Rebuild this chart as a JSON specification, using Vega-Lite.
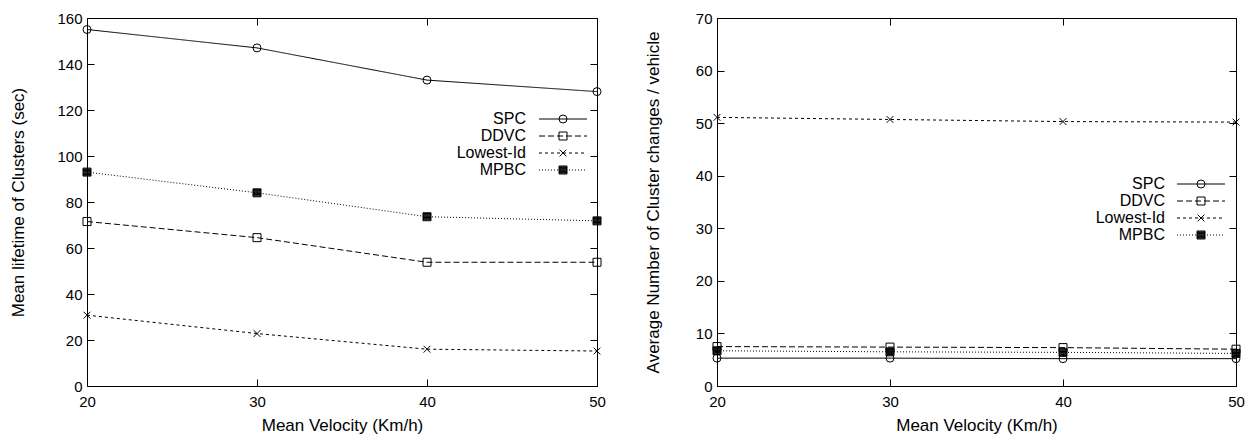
{
  "$schema": "https://vega.github.io/schema/vega-lite/v6.json",
  "padding": {"left": 9, "top": 10, "right": 5, "bottom": 5},
  "spacing": 37,
  "config": {
    "font": "Liberation Sans",
    "view": {"stroke": "black", "strokeWidth": 1},
    "axis": {
      "domain": false,
      "grid": false,
      "ticks": true,
      "tickColor": "black",
      "tickSize": -7,
      "labelFont": "Liberation Sans",
      "labelFontSize": 15,
      "labelColor": "black",
      "labelPadding": 12,
      "labelFlush": false,
      "titleFont": "Liberation Sans",
      "titleFontSize": 17,
      "titleFontWeight": "normal",
      "titleColor": "black",
      "titlePadding": 14
    },
    "axisBottom": {"labelPadding": 15, "titlePadding": 8},
    "legend": {
      "labelFont": "Liberation Sans",
      "labelFontSize": 16,
      "labelColor": "black",
      "title": null
    }
  },
  "resolve": {"scale": {"shape": "independent", "strokeDash": "independent"}, "legend": {"shape": "independent", "strokeDash": "independent"}},
  "datasets": {
    "lifetime": [
      {"velocity": 20, "series": "SPC", "value": 155},
      {"velocity": 30, "series": "SPC", "value": 147},
      {"velocity": 40, "series": "SPC", "value": 133},
      {"velocity": 50, "series": "SPC", "value": 128},
      {"velocity": 20, "series": "DDVC", "value": 71.5},
      {"velocity": 30, "series": "DDVC", "value": 64.5},
      {"velocity": 40, "series": "DDVC", "value": 53.8},
      {"velocity": 50, "series": "DDVC", "value": 53.8},
      {"velocity": 20, "series": "Lowest-Id", "value": 30.8},
      {"velocity": 30, "series": "Lowest-Id", "value": 22.8},
      {"velocity": 40, "series": "Lowest-Id", "value": 16},
      {"velocity": 50, "series": "Lowest-Id", "value": 15.2},
      {"velocity": 20, "series": "MPBC", "value": 93},
      {"velocity": 30, "series": "MPBC", "value": 84},
      {"velocity": 40, "series": "MPBC", "value": 73.6},
      {"velocity": 50, "series": "MPBC", "value": 71.8}
    ],
    "changes": [
      {"velocity": 20, "series": "SPC", "value": 5.3},
      {"velocity": 30, "series": "SPC", "value": 5.3},
      {"velocity": 40, "series": "SPC", "value": 5.2},
      {"velocity": 50, "series": "SPC", "value": 5.2},
      {"velocity": 20, "series": "DDVC", "value": 7.5},
      {"velocity": 30, "series": "DDVC", "value": 7.4},
      {"velocity": 40, "series": "DDVC", "value": 7.3},
      {"velocity": 50, "series": "DDVC", "value": 7.0},
      {"velocity": 20, "series": "Lowest-Id", "value": 51.1},
      {"velocity": 30, "series": "Lowest-Id", "value": 50.7},
      {"velocity": 40, "series": "Lowest-Id", "value": 50.3},
      {"velocity": 50, "series": "Lowest-Id", "value": 50.2},
      {"velocity": 20, "series": "MPBC", "value": 6.7},
      {"velocity": 30, "series": "MPBC", "value": 6.5},
      {"velocity": 40, "series": "MPBC", "value": 6.4},
      {"velocity": 50, "series": "MPBC", "value": 6.2}
    ]
  },
  "hconcat": [
    {
      "width": 510,
      "height": 368,
      "data": {"name": "lifetime"},
      "layer": [
        {
          "mark": {"type": "line", "color": "black", "strokeWidth": 1},
          "encoding": {
            "x": {"field": "velocity", "type": "quantitative", "scale": {"domain": [20, 50], "nice": false},
                  "axis": {"orient": "bottom", "values": [20, 30, 40, 50], "title": "Mean Velocity (Km/h)"}},
            "y": {"field": "value", "type": "quantitative", "scale": {"domain": [0, 160], "nice": false},
                  "axis": {"orient": "left", "values": [0, 20, 40, 60, 80, 100, 120, 140, 160], "title": "Mean lifetime of Clusters (sec)", "titlePadding": 29}},
            "strokeDash": {"field": "series", "type": "nominal", "sort": ["SPC", "DDVC", "Lowest-Id", "MPBC"],
                  "scale": {"range": [[1, 0], [6, 3], [3, 3], [1, 2]]},
                  "legend": {"orient": "none", "legendX": 468, "legendY": 93, "symbolType": "M-3.2,0H3.2", "symbolSize": 225,
                             "symbolStrokeWidth": 1, "symbolStrokeColor": "black", "labelAlign": "right", "labelOffset": -45,
                             "rowPadding": 1}}
          }
        },
        {
          "mark": {"type": "point", "filled": false, "color": "black", "strokeWidth": 1, "size": 64, "opacity": 1},
          "encoding": {
            "x": {"field": "velocity", "type": "quantitative", "scale": {"domain": [20, 50], "nice": false},
                  "axis": {"orient": "top", "values": [20, 30, 40, 50], "labels": false, "title": null}},
            "y": {"field": "value", "type": "quantitative", "scale": {"domain": [0, 160], "nice": false},
                  "axis": {"orient": "right", "values": [0, 20, 40, 60, 80, 100, 120, 140, 160], "labels": false, "title": null}},
            "shape": {"field": "series", "type": "nominal",
                  "scale": {"domain": ["SPC", "DDVC", "Lowest-Id", "MPBC"],
                            "range": ["circle", "square", "M-0.85,-0.85L0.85,0.85M-0.85,0.85L0.85,-0.85",
                                      "M-1,-1H1V1H-1Z M-1,-0.8H1 M-1,-0.6H1 M-1,-0.4H1 M-1,-0.2H1 M-1,0H1 M-1,0.2H1 M-1,0.4H1 M-1,0.6H1 M-1,0.8H1"]},
                  "legend": {"orient": "none", "legendX": 468, "legendY": 93, "labelOpacity": 0, "labelAlign": "right", "labelOffset": -45,
                             "rowPadding": 1, "symbolStrokeColor": "black", "symbolStrokeWidth": 1, "symbolSize": 64}}
          }
        }
      ]
    },
    {
      "width": 519,
      "height": 368,
      "data": {"name": "changes"},
      "layer": [
        {
          "mark": {"type": "line", "color": "black", "strokeWidth": 1},
          "encoding": {
            "x": {"field": "velocity", "type": "quantitative", "scale": {"domain": [20, 50], "nice": false},
                  "axis": {"orient": "bottom", "values": [20, 30, 40, 50], "title": "Mean Velocity (Km/h)"}},
            "y": {"field": "value", "type": "quantitative", "scale": {"domain": [0, 70], "nice": false},
                  "axis": {"orient": "left", "values": [0, 10, 20, 30, 40, 50, 60, 70], "title": "Average Number of Cluster changes / vehicle", "titlePadding": 33}},
            "strokeDash": {"field": "series", "type": "nominal", "sort": ["SPC", "DDVC", "Lowest-Id", "MPBC"],
                  "scale": {"range": [[1, 0], [6, 3], [3, 3], [1, 2]]},
                  "legend": {"orient": "none", "legendX": 476, "legendY": 158, "symbolType": "M-3.2,0H3.2", "symbolSize": 225,
                             "symbolStrokeWidth": 1, "symbolStrokeColor": "black", "labelAlign": "right", "labelOffset": -44,
                             "rowPadding": 1}}
          }
        },
        {
          "mark": {"type": "point", "filled": false, "color": "black", "strokeWidth": 1, "size": 64, "opacity": 1},
          "encoding": {
            "x": {"field": "velocity", "type": "quantitative", "scale": {"domain": [20, 50], "nice": false},
                  "axis": {"orient": "top", "values": [20, 30, 40, 50], "labels": false, "title": null}},
            "y": {"field": "value", "type": "quantitative", "scale": {"domain": [0, 70], "nice": false},
                  "axis": {"orient": "right", "values": [0, 10, 20, 30, 40, 50, 60, 70], "labels": false, "title": null}},
            "shape": {"field": "series", "type": "nominal",
                  "scale": {"domain": ["SPC", "DDVC", "Lowest-Id", "MPBC"],
                            "range": ["circle", "square", "M-0.85,-0.85L0.85,0.85M-0.85,0.85L0.85,-0.85",
                                      "M-1,-1H1V1H-1Z M-1,-0.8H1 M-1,-0.6H1 M-1,-0.4H1 M-1,-0.2H1 M-1,0H1 M-1,0.2H1 M-1,0.4H1 M-1,0.6H1 M-1,0.8H1"]},
                  "legend": {"orient": "none", "legendX": 476, "legendY": 158, "labelOpacity": 0, "labelAlign": "right", "labelOffset": -44,
                             "rowPadding": 1, "symbolStrokeColor": "black", "symbolStrokeWidth": 1, "symbolSize": 64}}
          }
        }
      ]
    }
  ]
}
